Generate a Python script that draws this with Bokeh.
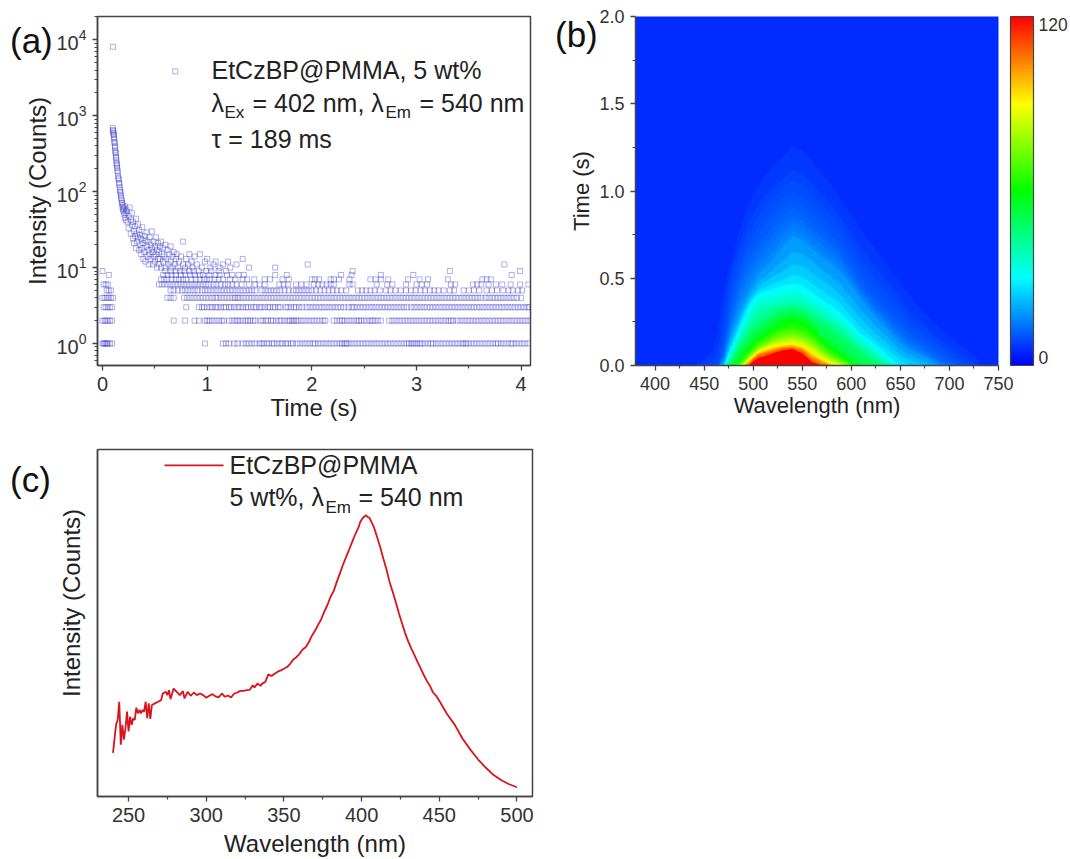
from bokeh.embed import file_html
from bokeh.resources import INLINE
from bokeh.layouts import column, row
from bokeh.models import (ColorBar, Div, FixedTicker, Label, LinearColorMapper, NumeralTickFormatter,
                          Range1d)
from bokeh.plotting import figure

# ---------- panel (a): decay, counts at integer levels ----------
a_t_1 = [0.0,0.01,0.02,0.03,0.04,0.05,0.07,0.09,0.98,1.15,1.18,1.21,1.26,1.29,1.34,1.37,1.40,1.43,1.46,1.50,1.52,1.54,1.57,1.59,1.62,1.64,1.67,1.70,1.72,1.75,1.77,1.80,1.82,1.86,1.89,1.92,1.95,1.98,2.01,2.03,2.06,2.09,2.12,2.15,2.18,2.21,2.24,2.27,2.29,2.31,2.33,2.34,2.37,2.40,2.43,2.46,2.49,2.52,2.55,2.58,2.61,2.64,2.67,2.70,2.73,2.76,2.79,2.82,2.85,2.88,2.91,2.93,2.95,2.97,2.99,3.01,3.03,3.05,3.08,3.11,3.14,3.16,3.19,3.22,3.25,3.28,3.31,3.34,3.37,3.40,3.43,3.45,3.47,3.49,3.52,3.55,3.58,3.61,3.64,3.67,3.70,3.73,3.76,3.78,3.81,3.84,3.87,3.90,3.92,3.95,3.98,4.01,4.04,4.07]
a_t_2 = [0.0,0.02,0.03,0.05,0.07,0.09,0.68,0.79,0.88,0.92,0.98,1.0,1.02,1.05,1.08,1.11,1.14,1.16,1.21,1.24,1.27,1.29,1.31,1.34,1.37,1.39,1.41,1.44,1.46,1.51,1.53,1.56,1.58,1.61,1.63,1.66,1.69,1.71,1.74,1.77,1.79,1.81,1.83,1.85,1.87,1.90,1.93,1.96,1.99,2.02,2.05,2.08,2.11,2.13,2.21,2.24,2.27,2.29,2.31,2.34,2.37,2.40,2.43,2.45,2.47,2.50,2.53,2.56,2.58,2.60,2.63,2.66,2.74,2.77,2.80,2.83,2.86,2.89,2.92,2.95,2.98,3.01,3.04,3.07,3.10,3.13,3.16,3.19,3.22,3.25,3.28,3.31,3.33,3.35,3.39,3.42,3.45,3.48,3.51,3.54,3.57,3.60,3.63,3.66,3.69,3.72,3.75,3.78,3.81,3.84,3.87,3.90,3.93,3.96,3.99,4.02,4.05,4.08]
a_t_3 = [0.01,0.03,0.05,0.07,0.09,0.80,0.92,0.95,0.97,1.0,1.03,1.05,1.08,1.10,1.13,1.16,1.18,1.21,1.23,1.26,1.29,1.31,1.34,1.37,1.39,1.42,1.45,1.47,1.50,1.52,1.55,1.58,1.60,1.63,1.65,1.68,1.70,1.75,1.77,1.80,1.83,1.85,1.88,1.91,1.95,1.98,2.01,2.04,2.07,2.10,2.13,2.16,2.19,2.22,2.25,2.28,2.31,2.35,2.38,2.40,2.43,2.46,2.49,2.52,2.55,2.58,2.61,2.64,2.67,2.70,2.73,2.76,2.79,2.82,2.85,2.88,2.91,2.95,2.98,3.01,3.04,3.07,3.10,3.13,3.16,3.19,3.22,3.25,3.28,3.31,3.34,3.37,3.40,3.43,3.46,3.49,3.52,3.55,3.58,3.61,3.64,3.67,3.70,3.73,3.76,3.79,3.82,3.85,3.88,3.91,3.94,3.97,4.0,4.03,4.06,4.08]
a_t_4 = [0.0,0.02,0.04,0.06,0.08,0.10,0.62,0.65,0.68,0.78,0.81,0.84,0.87,0.90,0.93,0.96,0.99,1.02,1.05,1.08,1.10,1.13,1.16,1.19,1.22,1.25,1.27,1.29,1.31,1.34,1.37,1.40,1.43,1.46,1.49,1.52,1.55,1.58,1.61,1.64,1.67,1.70,1.73,1.76,1.79,1.82,1.85,1.88,1.91,1.94,1.97,2.0,2.03,2.06,2.09,2.12,2.15,2.18,2.21,2.24,2.27,2.30,2.33,2.36,2.39,2.42,2.45,2.48,2.51,2.54,2.57,2.60,2.63,2.66,2.69,2.72,2.75,2.78,2.81,2.84,2.87,2.90,2.93,2.96,2.99,3.02,3.05,3.08,3.11,3.14,3.17,3.20,3.23,3.26,3.29,3.32,3.35,3.38,3.41,3.44,3.47,3.50,3.53,3.56,3.59,3.62,3.66,3.69,3.72,3.75,3.78,3.81,3.84,3.87,3.90,3.93,3.96,4.0]
a_t_5 = [0.04,0.06,0.08,0.65,0.68,0.72,0.76,0.79,0.82,0.85,0.88,0.91,0.95,0.98,1.01,1.04,1.07,1.10,1.13,1.16,1.19,1.22,1.25,1.28,1.31,1.34,1.37,1.40,1.43,1.46,1.52,1.55,1.58,1.61,1.64,1.67,1.70,1.74,1.78,1.82,1.85,1.88,1.91,1.94,1.97,2.0,2.04,2.08,2.12,2.16,2.20,2.24,2.28,2.33,2.44,2.48,2.52,2.56,2.60,2.65,2.71,2.75,2.80,2.85,2.90,2.95,2.99,3.04,3.08,3.13,3.17,3.21,3.26,3.32,3.36,3.45,3.50,3.55,3.60,3.67,3.72,3.77,3.83,3.88,3.92,3.97,4.01]
a_t_6 = [0.01,0.03,0.05,0.54,0.57,0.60,0.63,0.66,0.69,0.72,0.75,0.78,0.81,0.84,0.87,0.90,0.93,0.96,0.99,1.02,1.06,1.09,1.13,1.17,1.20,1.24,1.28,1.33,1.40,1.46,1.50,1.55,1.69,1.73,1.77,1.85,1.90,1.95,2.02,2.06,2.10,2.14,2.18,2.21,2.36,2.39,2.62,2.72,2.77,2.90,3.0,3.05,3.10,3.33,3.37,3.54,3.58,3.62,3.69,3.76,3.82,3.90,3.99,4.07]
a_t_7 = [0.56,0.59,0.62,0.66,0.70,0.73,0.77,0.80,0.85,0.89,0.93,0.97,1.0,1.03,1.07,1.11,1.15,1.22,1.27,1.34,1.38,1.45,1.55,1.60,1.72,1.78,2.0,2.03,2.07,2.18,2.21,2.26,2.36,2.56,2.61,2.66,2.73,2.92,3.03,3.11,3.30,3.63,3.67,3.71]
a_t_8 = [0.06,0.58,0.62,0.66,0.70,0.75,0.79,0.84,0.88,0.93,0.96,1.02,1.08,1.12,1.19,1.24,1.30,1.35,1.65,1.76,2.28,2.38,2.66,2.97,3.91]
a_t_9 = [0.0,0.60,0.65,0.70,0.74,0.78,0.83,0.87,0.92,0.99,1.04,1.11,1.18,2.39,3.32,3.99]
a_cloud = [(0.23,55),(0.24,40),(0.25,48),(0.25,33),(0.26,62),(0.27,43),(0.27,28),(0.28,36),(0.28,52),(0.29,24),(0.29,40),(0.30,30),(0.30,21),(0.31,35),(0.31,26),(0.32,44),(0.32,18),(0.33,28),(0.33,22),(0.34,37),(0.34,25),(0.35,17),(0.35,31),(0.36,20),(0.36,27),(0.37,15),(0.37,24),(0.38,34),(0.38,18),(0.39,21),(0.39,13),(0.40,26),(0.40,16),(0.41,23),(0.41,12),(0.42,19),(0.42,29),(0.43,14),(0.43,22),(0.44,17),(0.44,11),(0.45,25),(0.45,15),(0.46,20),(0.46,13),(0.47,30),(0.47,18),(0.48,11),(0.48,16),(0.49,22),(0.49,14),(0.50,12),(0.50,19),(0.51,25),(0.51,15),(0.52,10),(0.52,17),(0.53,13),(0.53,21),(0.54,11),(0.54,16),(0.55,19),(0.55,13),(0.56,22),(0.56,10),(0.57,15),(0.58,12),(0.58,18),(0.59,14),(0.60,20),(0.60,10),(0.61,13),(0.62,17),(0.63,11),(0.64,15),(0.65,19),(0.65,12),(0.66,10),(0.67,14),(0.68,16),(0.69,11),(0.70,13),(0.71,15),(0.72,10),(0.73,12),(0.75,14),(0.77,22),(0.77,11),(0.79,10),(0.80,13),(0.82,11),(0.83,15),(0.85,12),(0.86,10),(0.88,14),(0.90,11),(0.93,15),(0.95,10),(0.98,12),(1.0,13),(1.03,10),(1.06,11),(1.08,12),(1.12,10),(1.15,11),(1.20,12),(1.22,10),(1.28,11),(1.34,13),(1.40,10),(1.65,10),(1.96,11),(3.84,11)]
a_decay_t = [0.098,0.100,0.102,0.104,0.106,0.108,0.110,0.112,0.114,0.116,0.118,0.120,0.122,0.124,0.126,0.128,0.130,0.132,0.134,0.136,0.138,0.140,0.143,0.146,0.149,0.152,0.155,0.158,0.161,0.164,0.167,0.170,0.173,0.176,0.179,0.182,0.185,0.188,0.191,0.194,0.197,0.200,0.204,0.208,0.212,0.216,0.220,0.225,0.230]
a_decay_v = [690,650,630,600,570,560,520,490,450,440,400,380,350,330,320,290,280,260,240,230,220,205,190,180,160,150,145,130,125,115,105,100,95,88,82,78,72,70,62,66,58,55,60,50,64,45,52,42,58]
a_spike_t = [0.10]
a_spike_v = [8100]
a_legend_marker_t = [0.695]
a_legend_marker_v = [3850]

# ---------- panel (b): contour heights (s), one row per count level ----------
b_columns = [440,450,460,465,470,475,480,485,490,495,500,505,510,520,530,540,550,560,570,580,590,600,610,620,630,640,650,660,670,680,690,700,710,720,730]
b_background_level = 3
b_levels = [4,5,6,7,8,9,10.5,12,13.5,15,18,21,24,27,30,33,36,39,42,45,48,51,54,57,61,65,69,73,77,82,86,91,97,103,109,115,135]
b_contours = [
 [0,.04,.10,.25,.42,.55,.65,.75,.85,.92,.98,1.03,1.07,1.14,1.2,1.26,1.23,1.17,1.10,1.03,.95,.87,.78,.70,.62,.55,.47,.40,.33,.27,.22,.17,.12,.08,.04],
 [0,0,.04,.12,.32,.48,.58,.68,.76,.82,.87,.92,.96,1.02,1.07,1.12,1.10,1.04,.98,.92,.84,.76,.67,.60,.53,.46,.38,.31,.25,.20,.15,.11,.07,.03],
 [0,0,0,.05,.22,.40,.52,.62,.70,.76,.81,.86,.90,.97,1.02,1.06,1.04,.98,.92,.86,.79,.70,.61,.53,.46,.40,.33,.26,.21,.16,.12,.08,.04],
 [0,0,0,0,.15,.33,.46,.56,.64,.70,.75,.80,.84,.91,.96,1.0,.97,.92,.86,.80,.74,.64,.55,.47,.41,.35,.29,.23,.18,.14,.10,.06,.02],
 [0,0,0,0,.12,.29,.42,.52,.60,.66,.70,.75,.79,.86,.91,.95,.92,.87,.81,.75,.69,.60,.51,.43,.37,.31,.25,.19,.15,.11,.07,.03],
 [0,0,0,0,.09,.25,.37,.47,.55,.61,.65,.70,.73,.80,.86,.90,.87,.82,.77,.71,.65,.56,.47,.40,.34,.28,.22,.17,.13,.09,.05,.02],
 [0,0,0,0,.07,.22,.33,.43,.50,.56,.60,.65,.68,.75,.81,.85,.83,.78,.73,.68,.62,.53,.44,.37,.31,.25,.19,.14,.11,.07,.03],
 [0,0,0,0,.05,.19,.29,.39,.45,.51,.55,.60,.63,.70,.76,.81,.79,.74,.69,.64,.59,.50,.42,.35,.29,.23,.17,.12,.09,.06,.02],
 [0,0,0,0,.03,.16,.26,.35,.41,.47,.51,.56,.59,.65,.72,.77,.75,.70,.65,.61,.56,.48,.40,.33,.27,.21,.15,.10,.07,.045,.01],
 [0,0,0,0,.02,.14,.23,.31,.37,.43,.47,.52,.55,.61,.68,.74,.72,.67,.62,.58,.53,.46,.38,.31,.25,.19,.13,.09,.065,.035],
 [0,0,0,0,.01,.12,.20,.27,.33,.39,.44,.48,.50,.55,.60,.65,.64,.60,.55,.51,.46,.39,.32,.26,.20,.15,.09,.06,.035,.01],
 [0,0,0,0,0,.10,.17,.24,.31,.37,.41,.45,.47,.51,.54,.58,.57,.53,.49,.45,.40,.33,.27,.21,.16,.11,.06,.03,.01],
 [0,0,0,0,0,.08,.15,.22,.29,.35,.39,.43,.44,.47,.49,.52,.51,.47,.43,.39,.35,.28,.22,.17,.12,.08,.03],
 [0,0,0,0,0,.065,.13,.20,.27,.33,.38,.41,.42,.44,.46,.47,.46,.42,.38,.34,.30,.24,.18,.14,.095,.045],
 [0,0,0,0,0,.05,.115,.18,.245,.305,.355,.385,.395,.415,.43,.44,.43,.39,.355,.315,.275,.22,.165,.12,.077,.03],
 [0,0,0,0,0,.04,.10,.16,.22,.28,.33,.36,.37,.39,.40,.41,.40,.36,.33,.29,.25,.20,.15,.10,.06,.015],
 [0,0,0,0,0,.03,.085,.145,.20,.255,.30,.33,.345,.365,.38,.385,.375,.34,.31,.27,.23,.18,.13,.085,.045,.005],
 [0,0,0,0,0,.02,.07,.13,.18,.23,.27,.30,.32,.34,.36,.36,.35,.32,.29,.25,.21,.16,.11,.07,.03],
 [0,0,0,0,0,.01,.06,.115,.16,.205,.24,.27,.29,.32,.34,.345,.335,.30,.27,.23,.19,.14,.095,.055,.018],
 [0,0,0,0,0,0,.05,.10,.14,.18,.21,.24,.26,.30,.32,.33,.32,.28,.25,.21,.17,.12,.08,.04,.005],
 [0,0,0,0,0,0,.04,.08,.125,.16,.195,.22,.24,.28,.305,.315,.305,.265,.23,.19,.15,.105,.06,.025],
 [0,0,0,0,0,0,.03,.06,.11,.14,.18,.20,.22,.26,.29,.30,.29,.25,.18,.14,.10,.05,.01],
 [0,0,0,0,0,0,.015,.04,.085,.12,.15,.175,.195,.24,.27,.285,.275,.235,.165,.125,.085,.035,.005],
 [0,0,0,0,0,0,0,.02,.06,.10,.135,.16,.18,.22,.25,.265,.255,.215,.15,.105,.07,.02],
 [0,0,0,0,0,0,0,.015,.05,.085,.12,.145,.165,.20,.228,.242,.23,.195,.135,.09,.055,.01],
 [0,0,0,0,0,0,0,.01,.04,.07,.105,.13,.15,.18,.205,.22,.205,.175,.12,.075,.04,.005],
 [0,0,0,0,0,0,0,0,.03,.06,.09,.115,.132,.165,.19,.20,.185,.158,.105,.06,.03],
 [0,0,0,0,0,0,0,0,.02,.05,.08,.105,.12,.15,.172,.182,.167,.14,.09,.05,.02],
 [0,0,0,0,0,0,0,0,.015,.045,.072,.095,.112,.14,.158,.167,.152,.125,.075,.04,.012],
 [0,0,0,0,0,0,0,0,.01,.04,.065,.09,.105,.13,.145,.153,.137,.11,.065,.03,.005],
 [0,0,0,0,0,0,0,0,.005,.035,.06,.085,.097,.12,.132,.14,.125,.09,.05,.022,.003],
 [0,0,0,0,0,0,0,0,0,.03,.055,.08,.09,.11,.12,.125,.112,.08,.04,.012],
 [0,0,0,0,0,0,0,0,0,.022,.047,.072,.082,.10,.112,.117,.103,.065,.03,.005],
 [0,0,0,0,0,0,0,0,0,.015,.04,.065,.075,.09,.105,.11,.095,.05,.02],
 [0,0,0,0,0,0,0,0,0,0,.035,.057,.067,.082,.097,.102,.085,.035,.008],
 [0,0,0,0,0,0,0,0,0,0,.025,.045,.05,.07,.088,.095,.07,.02],
]
b_colorbar_ticks = [0, 120]

# ---------- panel (c): excitation spectrum ----------
c_wavelength = [240,241,242,243,244,245,246,247,248,249,250,251,252,253,254,255,256,257,258,259,260,261,262,263,264,265,267,269,271,272,274,275,276,277,279,281,283,285,286,288,290,292,294,296,298,300,302,304,306,308,310,312,314,316,318,320,322,324,326,328,330,331,333,335,336,338,340,342,344,346,348,350,352,354,356,358,360,362,364,366,368,370,372,374,376,378,380,382,384,386,388,390,392,394,396,398,399,400,401,402,403,404,405,406,408,410,412,414,416,418,420,422,424,426,428,430,432,434,436,438,440,442,444,446,448,450,455,460,465,470,475,480,485,490,495,500]
c_intensity = [13.2,17.7,21.9,23.2,28.7,15.7,21.7,17.2,20.7,25.7,19.7,24.2,21.7,23.7,23.2,26.9,25.2,26.2,25.2,26.2,25.7,28.7,23.7,28.2,23.5,27.7,28.2,28.7,29.2,31.2,31.7,30.7,32.2,29.5,32.7,31.7,30.7,31.9,29.7,31.7,30.5,31.5,30.7,31.2,30.7,29.9,30.5,31.0,30.3,30.0,31.2,30.2,30.6,30.0,31.2,31.5,32.0,32.0,32.2,32.3,33.7,33.0,34.2,33.5,34.2,34.7,37.0,36.5,37.2,37.8,38.2,38.7,39.2,40.2,41.5,42.2,43.2,44.5,45.2,46.7,48.7,50.2,52.0,53.7,56.0,58.0,60.5,62.2,65.0,67.5,70.2,72.5,74.8,77.2,79.5,81.5,83.0,83.8,84.5,84.9,85.2,84.6,84.5,83.5,81.5,78.5,75.5,72.0,68.8,65.0,62.0,58.8,55.5,52.5,49.5,47.0,44.8,42.8,40.8,38.8,36.8,35.0,33.5,31.5,30.5,29.0,25.0,21.7,17.5,14.2,11.2,8.7,6.5,4.9,3.7,2.8]

FONT = "Liberation Sans"
INK = "#333333"
AXIS = "#444444"
MARK = "#3a3ac8"
RED = "#d8141c"


def style(p, tick_px, title_px, tick_standoff, title_standoff):
    for ax in list(p.xaxis) + list(p.yaxis):
        ax.axis_line_color = AXIS
        ax.axis_line_width = 1.5
        ax.major_tick_line_color = AXIS
        ax.major_tick_line_width = 1.3
        ax.minor_tick_line_color = AXIS
        ax.minor_tick_line_width = 1.2
        ax.major_tick_in = 0
        ax.major_tick_out = 5
        ax.minor_tick_in = 0
        ax.minor_tick_out = 3
        ax.major_label_text_font = FONT
        ax.major_label_text_font_size = f"{tick_px}px"
        ax.major_label_text_color = INK
        ax.major_label_standoff = tick_standoff
        ax.axis_label_standoff = title_standoff
        ax.axis_label_text_font = FONT
        ax.axis_label_text_font_size = f"{title_px}px"
        ax.axis_label_text_font_style = "normal"
        ax.axis_label_text_color = "#222222"
    p.grid.visible = False
    p.background_fill_color = "white"
    p.border_fill_color = "white"


def put(p, x, y, text, px, color="#222222", angle=0.0, align="left"):
    p.add_layout(Label(x=x, y=y, text=text, text_font=FONT, text_font_size=f"{px}px",
                       text_color=color, text_baseline="middle", text_align=align,
                       angle=angle))


def panel_tag(left, top, text):
    return Div(text=text, width=60, height=40,
               styles={"position": "absolute", "left": f"{left}px", "top": f"{top}px",
                       "font-family": FONT, "font-size": "35px", "color": "#111111",
                       "line-height": "40px"})


# ---------- (a) ----------
A_LEFT, A_RIGHT, A_TOP, A_BOTTOM = 97, 530, 16, 365
pa = figure(width=550, height=440, output_backend="svg", toolbar_location=None,
            y_axis_type="log", x_range=Range1d(-0.048, 4.09), y_range=Range1d(0.513, 20300),
            min_border_left=A_LEFT, min_border_right=20, min_border_top=A_TOP,
            min_border_bottom=75, x_axis_label="Time (s)", y_axis_label="Intensity (Counts)")
style(pa, 20, 24, 6, 0)
pa.yaxis.axis_label_standoff = 2
pa.outline_line_color = AXIS
pa.outline_line_width = 1.5
pa.xaxis.ticker = FixedTicker(ticks=[0, 1, 2, 3, 4], minor_ticks=[0.5, 1.5, 2.5, 3.5])


def ax_(px):
    return -0.048 + (px - A_LEFT) * 4.138 / (A_RIGHT - A_LEFT)


def ay_(py):
    return 10 ** ((343 - py) / 76)


a_x, a_y = [], []
for level, times in enumerate([a_t_1, a_t_2, a_t_3, a_t_4, a_t_5, a_t_6, a_t_7, a_t_8, a_t_9], 1):
    a_x += times
    a_y += [level] * len(times)
a_x += [c[0] for c in a_cloud] + a_decay_t + a_spike_t + a_legend_marker_t
a_y += [c[1] for c in a_cloud] + a_decay_v + a_spike_v + a_legend_marker_v
pa.scatter(a_x, a_y, marker="square", size=5, fill_color=None, line_color=MARK,
           line_width=0.8, line_alpha=0.5)
put(pa, ax_(211), ay_(69), "EtCzBP@PMMA, 5 wt%", 25)
put(pa, ax_(211), ay_(102), "λ", 25)
put(pa, ax_(224), ay_(112), "Ex", 17)
put(pa, ax_(252), ay_(102), "= 402 nm, λ", 25)
put(pa, ax_(385), ay_(112), "Em", 17)
put(pa, ax_(419), ay_(102), "= 540 nm", 25)
put(pa, ax_(211), ay_(138), "τ = 189 ms", 25)

# ---------- (b) ----------
B_LEFT, B_RIGHT, B_TOP, B_BOTTOM = 635, 998, 16, 365
stops = [(0, 0, 255), (0, 255, 255), (0, 255, 0), (255, 255, 0), (255, 0, 0)]
palette = []
for i in range(256):
    f = i / 255 * 4
    k = min(int(f), 3)
    t = f - k
    r, g, b = [round(stops[k][j] + (stops[k + 1][j] - stops[k][j]) * t) for j in range(3)]
    palette.append(f"#{r:02x}{g:02x}{b:02x}")
C_LOW, C_HIGH = -2.9, 123
mapper = LinearColorMapper(palette=palette, low=C_LOW, high=C_HIGH)


def level_color(v):
    i = max(0, min(255, int((v - C_LOW) / (C_HIGH - C_LOW) * 255)))
    return palette[i]


pb = figure(width=520, height=440, output_backend="svg", toolbar_location=None,
            x_range=Range1d(380, 750), y_range=Range1d(0, 2),
            min_border_left=B_LEFT - 550, min_border_right=1070 - B_RIGHT,
            min_border_top=B_TOP, min_border_bottom=75,
            x_axis_label="Wavelength (nm)", y_axis_label="Time (s)")
style(pb, 18, 22, 6, 0)
pb.yaxis.axis_label_standoff = 2
pb.outline_line_color = None
pb.background_fill_color = level_color(b_background_level)
pb.xaxis.ticker = FixedTicker(ticks=list(range(400, 751, 50)),
                              minor_ticks=[425, 475, 525, 575, 625, 675, 725])
pb.yaxis.ticker = FixedTicker(ticks=[0, 0.5, 1.0, 1.5, 2.0], minor_ticks=[0.25, 0.75, 1.25, 1.75])
pb.yaxis.formatter = NumeralTickFormatter(format="0.0")
for i, heights in enumerate(b_contours):
    full = heights + [0] * (len(b_columns) - len(heights))
    pb.varea(x=b_columns, y1=[0] * len(b_columns), y2=full,
             fill_color=level_color((b_levels[i] + b_levels[i + 1]) / 2))
cbar = ColorBar(color_mapper=mapper, ticker=FixedTicker(ticks=b_colorbar_ticks), width=23, height=349,
                padding=0, location=(12, 0), major_tick_line_color=None,
                minor_tick_line_color=None, bar_line_color=AXIS, bar_line_width=1.2,
                label_standoff=5, major_label_text_font=FONT, major_label_text_font_size="17.5px",
                major_label_text_color=INK)
pb.add_layout(cbar, "right")

# ---------- (c) ----------
C_LEFT, C_RIGHT, C_TOP, C_BOTTOM = 97, 532, 449, 799
pc = figure(width=1070, height=419, output_backend="svg", toolbar_location=None,
            x_range=Range1d(230, 510), y_range=Range1d(0, 105.1),
            min_border_left=C_LEFT, min_border_right=1070 - C_RIGHT,
            min_border_top=C_TOP - 440, min_border_bottom=60,
            x_axis_label="Wavelength (nm)", y_axis_label="\u00a0" * 6 + "Intensity (Counts)")
style(pc, 20, 24, 6, 5)
pc.yaxis.axis_label_standoff = 13
pc.outline_line_color = AXIS
pc.outline_line_width = 1.5
pc.xaxis.ticker = FixedTicker(ticks=[250, 300, 350, 400, 450, 500],
                              minor_ticks=[275, 325, 375, 425, 475])
pc.yaxis.ticker = FixedTicker(ticks=[])
pc.line(c_wavelength, c_intensity, line_color=RED, line_width=1.8)


def cx_(px):
    return 230 + (px - C_LEFT) * 280 / (C_RIGHT - C_LEFT)


def cy_(py):
    return (C_BOTTOM - py) * 105.1 / (C_BOTTOM - C_TOP)


pc.line([cx_(164), cx_(223)], [cy_(465), cy_(465)], line_color=RED, line_width=1.8)
put(pc, cx_(229), cy_(465), "EtCzBP@PMMA", 25)
put(pc, cx_(229), cy_(497), "5 wt%, λ", 25)
put(pc, cx_(325), cy_(507), "Em", 17)
put(pc, cx_(358), cy_(497), "= 540 nm", 25)

tag_a = panel_tag(5, 16, "(a)")
tag_b = panel_tag(550, 10, "(b)")
tag_c = panel_tag(5, 455, "(c)")

page = column(row(pa, pb, spacing=0), pc, tag_a, tag_b, tag_c, spacing=0)
open("out.html", "w").write(file_html(page, INLINE))
